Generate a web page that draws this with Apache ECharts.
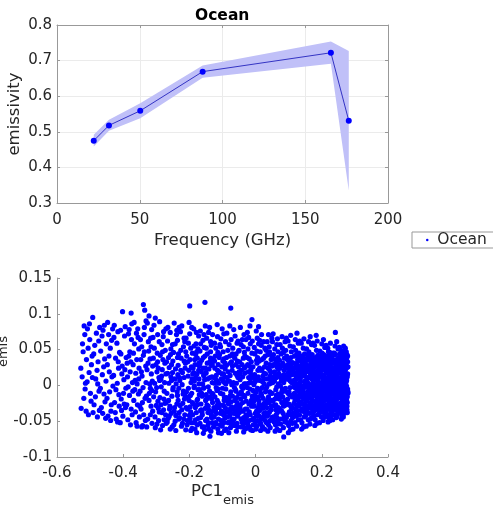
<!DOCTYPE html>
<html><head><meta charset="utf-8">
<script src="https://cdn.jsdelivr.net/npm/echarts@6/dist/echarts.min.js"></script>
<style>html,body{margin:0;padding:0;background:#fff}#c{width:493px;height:507px}</style>
</head><body><div id="c"></div>
<script>
// Top panel: ocean emissivity spectrum
const freqGHz   = [22.2, 31.4, 50.3, 88, 165.5, 176.3];
const emisMean  = [0.475, 0.518, 0.559, 0.669, 0.722, 0.531];
const emisUpper = [0.492, 0.534, 0.580, 0.686, 0.754, 0.727];
const emisLower = [0.459, 0.503, 0.538, 0.652, 0.691, 0.335];
const freqTicks = [0, 50, 100, 150, 200];
const emisTicks = [0.3, 0.4, 0.5, 0.6, 0.7, 0.8];
// Bottom panel: PC1 vs PC2 of emissivity
const pcTicksX = [-0.6, -0.4, -0.2, 0, 0.2, 0.4];
const pcTicksY = [-0.1, -0.05, 0, 0.05, 0.1, 0.15];
const pcPoints = [
[-.527,-.032],[-.524,.012],[-.521,.047],[-.519,-.018],[-.516,.071],[-.514,.003],[-.528,.024],[-.512,-.036],[-.518,.083],[-.523,.058],[-.515,-.005],[-.511,.036],
[-.508,.079],[-.505,-.041],[-.503,.018],[-.501,.064],[-.497,-.022],[-.494,.041],[-.492,.095],[-.509,.005],[-.499,-.011],[-.496,.029],[-.491,-.038],[-.506,.052],[-.502,.086],[-.493,.011],
[-.488,-.027],[-.486,.056],[-.483,.009],[-.481,.073],[-.478,-.044],[-.476,.033],[-.473,-.008],[-.471,.081],[-.489,.044],[-.484,-.016],[-.479,.021],[-.474,.062],[-.472,-.035],[-.477,.002],
[-.468,.048],[-.466,-.031],[-.463,.015],[-.461,.077],[-.458,-.012],[-.456,.037],[-.453,-.046],[-.451,.058],[-.469,-.004],[-.464,.069],[-.459,.026],[-.455,-.023],[-.452,.006],[-.457,.084],[-.462,-.039],
[-.448,.029],[-.446,-.043],[-.444,.071],[-.441,-.009],[-.439,.052],[-.436,-.027],[-.434,.012],[-.432,.079],[-.449,-.018],[-.443,.041],[-.438,-.049],[-.435,.063],[-.431,-.001],[-.447,.088],[-.442,.019],[-.437,-.036],
[-.428,.067],[-.426,-.024],[-.423,.038],[-.421,-.047],[-.418,.003],[-.416,.075],[-.413,-.013],[-.411,.046],[-.429,.014],[-.424,-.038],[-.419,.059],[-.414,.024],[-.412,-.029],[-.427,.084],[-.422,-.006],[-.417,-.051],[-.415,.033],
[-.408,.077],[-.406,-.019],[-.403,.027],[-.401,-.043],[-.398,.008],[-.396,.069],[-.393,-.031],[-.391,.039],[-.409,-.052],[-.404,.016],[-.399,-.011],[-.394,.082],[-.392,-.004],[-.407,.044],[-.402,.103],[-.397,-.026],[-.395,.022],[-.405,-.035],
[-.388,.031],[-.386,-.048],[-.384,.072],[-.381,-.014],[-.379,.019],[-.376,-.033],[-.374,.086],[-.372,.004],[-.389,-.027],[-.383,.041],[-.378,-.055],[-.375,.064],[-.371,-.008],[-.387,.012],[-.382,.078],[-.377,.033],[-.373,-.041],[-.385,-.002],[-.38,.047],[-.376,.101],
[-.368,-.021],[-.366,.058],[-.364,.007],[-.361,-.052],[-.359,.036],[-.356,.079],[-.354,-.012],[-.352,.024],[-.369,.045],[-.363,-.037],[-.358,.002],[-.355,.067],[-.351,-.044],[-.367,.088],[-.362,.017],[-.357,-.027],[-.353,.051],[-.365,-.006],[-.36,.073],[-.358,-.057],[-.353,.009],[-.37,.029],
[-.348,.064],[-.346,-.033],[-.343,.013],[-.341,-.056],[-.339,.042],[-.336,.081],[-.334,-.018],[-.332,.027],[-.349,-.008],[-.344,.054],[-.338,-.041],[-.335,.105],[-.331,.004],[-.347,.036],[-.342,-.024],[-.337,.071],[-.333,-.049],[-.345,.019],[-.34,-.003],[-.336,.047],[-.331,.09],[-.35,-.029],[-.339,.113],[-.344,-.058],
[-.328,.022],[-.326,-.047],[-.324,.061],[-.321,-.011],[-.319,.037],[-.316,-.029],[-.314,.078],[-.312,.006],[-.329,-.058],[-.323,.048],[-.318,-.004],[-.315,.016],[-.311,-.036],[-.327,.087],[-.322,-.021],[-.317,.066],[-.313,-.053],[-.325,.031],[-.32,.002],[-.316,.054],[-.311,.027],[-.33,-.015],[-.322,.097],[-.318,-.041],[-.314,-.007],
[-.308,-.016],[-.306,.052],[-.304,-.044],[-.301,.029],[-.299,-.003],[-.296,.071],[-.294,-.032],[-.292,.011],[-.309,.038],[-.303,-.059],[-.298,.019],[-.295,-.022],[-.291,.061],[-.307,.084],[-.302,-.009],[-.297,.045],[-.293,-.049],[-.305,.003],[-.3,-.028],[-.296,.033],[-.291,-.037],[-.31,.067],[-.303,.094],[-.298,-.054],[-.294,.024],[-.29,.007],
[-.288,.042],[-.286,-.027],[-.284,.013],[-.281,-.056],[-.279,.068],[-.276,-.008],[-.274,.031],[-.272,-.041],[-.289,-.017],[-.283,.057],[-.278,-.034],[-.275,.004],[-.271,.079],[-.287,-.062],[-.282,.022],[-.277,-.019],[-.273,.049],[-.285,-.002],[-.28,.036],[-.276,-.048],[-.271,.016],[-.29,.089],[-.283,-.038],[-.278,.075],[-.274,-.025],[-.27,-.053],[-.286,.009],[-.281,.047],
[-.268,-.011],[-.266,.062],[-.264,-.046],[-.261,.025],[-.259,-.029],[-.256,.051],[-.254,.007],[-.252,-.058],[-.269,.033],[-.263,-.021],[-.258,.074],[-.255,-.039],[-.251,.018],[-.267,-.051],[-.262,.003],[-.257,.043],[-.253,-.015],[-.265,.081],[-.26,-.033],[-.256,.012],[-.251,.057],[-.27,-.024],[-.263,.039],[-.258,-.061],[-.254,.029],[-.25,-.006],[-.266,.017],[-.261,-.043],
[-.248,.046],[-.246,-.036],[-.244,.009],[-.241,-.063],[-.239,.071],[-.236,-.014],[-.234,.028],[-.232,-.047],[-.249,-.003],[-.243,.058],[-.238,-.026],[-.235,.015],[-.231,.081],[-.247,-.055],[-.242,.023],[-.237,-.009],[-.233,.044],[-.245,-.031],[-.24,.002],[-.236,.063],[-.231,-.038],[-.25,.034],[-.243,-.05],[-.238,.077],[-.234,-.021],[-.23,.011],[-.246,.087],[-.241,-.042],[-.236,.039],[-.232,-.004],
[-.228,-.028],[-.226,.049],[-.224,-.057],[-.221,.018],[-.219,-.012],[-.216,.066],[-.214,-.041],[-.212,.031],[-.229,.007],[-.223,-.034],[-.218,.054],[-.215,-.019],[-.211,-.062],[-.227,.075],[-.222,.001],[-.217,-.047],[-.213,.024],[-.225,.038],[-.22,-.025],[-.216,.011],[-.211,.047],[-.23,-.045],[-.223,.083],[-.218,-.008],[-.214,.061],[-.21,-.031],[-.226,.021],[-.221,-.053],[-.216,.034],[-.212,-.015],
[-.208,.041],[-.206,-.049],[-.204,.013],[-.201,-.021],[-.199,.072],[-.196,-.037],[-.194,.026],[-.192,-.06],[-.209,-.009],[-.203,.059],[-.198,-.03],[-.195,.004],[-.191,.045],[-.207,-.055],[-.202,.021],[-.197,-.014],[-.193,.081],[-.205,.033],[-.2,-.042],[-.196,.052],[-.191,-.024],[-.21,.066],[-.203,-.004],[-.198,.036],[-.194,-.052],[-.19,.016],[-.206,-.033],[-.201,.088],[-.196,-.063],[-.192,.009],[-.199,.111],[-.204,-.017],
[-.188,-.026],[-.186,.055],[-.184,-.052],[-.181,.011],[-.179,-.038],[-.176,.038],[-.174,-.006],[-.172,.069],[-.189,.024],[-.183,-.061],[-.178,.047],[-.175,-.019],[-.171,.002],[-.187,.079],[-.182,-.031],[-.177,.016],[-.173,-.046],[-.185,.006],[-.18,.058],[-.176,-.027],[-.171,.031],[-.19,-.041],[-.183,.029],[-.178,-.066],[-.174,.051],[-.17,-.013],[-.186,-.003],[-.181,.043],[-.176,-.055],[-.172,.021],[-.179,.074],[-.184,.036],
[-.168,.048],[-.166,-.045],[-.164,.019],[-.161,-.015],[-.159,.063],[-.156,-.058],[-.154,.008],[-.152,-.032],[-.169,-.006],[-.163,.035],[-.158,-.067],[-.155,.053],[-.151,-.021],[-.167,.076],[-.162,-.037],[-.157,.014],[-.153,.041],[-.165,-.026],[-.16,.002],[-.156,.071],[-.151,-.049],[-.17,.027],[-.163,-.011],[-.158,.039],[-.154,-.062],[-.15,.018],[-.166,.058],[-.161,-.041],[-.156,-.003],[-.152,.083],[-.153,.116],[-.168,-.053],[-.159,.024],[-.164,-.034],
[-.148,-.019],[-.146,.044],[-.144,-.056],[-.141,.023],[-.139,-.008],[-.136,.061],[-.134,-.041],[-.132,.012],[-.149,.052],[-.143,-.029],[-.138,.033],[-.135,-.064],[-.131,.004],[-.147,-.047],[-.142,.074],[-.137,-.016],[-.133,.028],[-.145,.009],[-.14,-.035],[-.136,.047],[-.131,-.052],[-.15,.017],[-.143,-.002],[-.138,-.071],[-.134,.056],[-.13,-.024],[-.146,.031],[-.141,-.061],[-.136,.038],[-.132,-.011],[-.139,.081],[-.144,-.038],[-.133,-.045],[-.148,.066],
[-.128,.037],[-.126,-.031],[-.124,.059],[-.121,-.052],[-.119,.014],[-.116,-.021],[-.114,.046],[-.112,-.066],[-.129,-.012],[-.123,.024],[-.118,-.039],[-.115,.068],[-.111,.003],[-.127,-.058],[-.122,.041],[-.117,-.007],[-.113,.029],[-.125,-.044],[-.12,.052],[-.116,-.028],[-.111,.018],[-.13,.071],[-.123,-.016],[-.118,.007],[-.114,-.061],[-.11,.039],[-.126,.011],[-.121,-.034],[-.116,.085],[-.112,-.047],[-.119,-.003],[-.124,.034],[-.113,-.024],[-.128,-.036],
[-.108,-.027],[-.106,.054],[-.104,-.049],[-.101,.016],[-.099,-.012],[-.096,.072],[-.094,-.063],[-.092,.031],[-.109,.043],[-.103,-.036],[-.098,.006],[-.095,-.021],[-.091,.061],[-.107,-.055],[-.102,.026],[-.097,-.041],[-.093,.012],[-.105,.065],[-.1,-.004],[-.096,.037],[-.091,-.032],[-.11,.019],[-.103,-.067],[-.098,.047],[-.094,-.017],[-.09,.002],[-.106,-.039],[-.101,.079],[-.096,-.052],[-.092,.023],[-.099,.034],[-.104,.009],[-.093,-.046],[-.108,.057],[-.097,-.028],
[-.088,.028],[-.086,-.044],[-.084,.049],[-.081,-.018],[-.079,.006],[-.076,-.059],[-.074,.064],[-.072,-.03],[-.089,-.061],[-.083,.019],[-.078,.041],[-.075,-.009],[-.071,-.047],[-.087,.073],[-.082,-.026],[-.077,.014],[-.073,.033],[-.085,-.037],[-.08,.057],[-.076,-.014],[-.071,.021],[-.09,-.005],[-.083,-.052],[-.078,.083],[-.074,-.039],[-.07,.044],[-.086,.011],[-.081,-.066],[-.076,.031],[-.072,.001],[-.075,.108],[-.084,-.023],[-.079,-.043],[-.088,.039],[-.073,-.056],
[-.068,-.033],[-.066,.041],[-.064,-.056],[-.061,.017],[-.059,-.008],[-.056,.059],[-.054,-.043],[-.052,.026],[-.069,.052],[-.063,-.021],[-.058,-.064],[-.055,.034],[-.051,-.012],[-.067,.004],[-.062,.069],[-.057,-.035],[-.053,.011],[-.065,-.047],[-.06,.029],[-.056,-.024],[-.051,.048],[-.07,-.015],[-.063,.038],[-.058,.003],[-.054,-.058],[-.05,.019],[-.066,.078],[-.061,-.039],[-.056,.014],[-.052,-.029],[-.059,.044],[-.064,-.003],[-.053,.062],[-.068,-.052],[-.057,-.017],
[-.048,.033],[-.046,-.027],[-.044,.057],[-.041,-.051],[-.039,.012],[-.036,-.014],[-.034,.046],[-.032,-.061],[-.049,-.038],[-.043,.021],[-.038,-.004],[-.035,.071],[-.031,-.033],[-.047,.008],[-.042,-.058],[-.037,.038],[-.033,.017],[-.045,-.019],[-.04,.064],[-.036,-.045],[-.031,.026],[-.05,.049],[-.043,-.009],[-.038,-.036],[-.034,.002],[-.03,-.052],[-.046,.081],[-.041,.029],[-.036,-.065],[-.032,.041],[-.039,-.024],[-.044,-.047],[-.033,-.016],[-.048,.016],[-.037,.054],[-.042,-.002],
[-.028,-.022],[-.026,.039],[-.024,-.054],[-.021,.011],[-.019,-.037],[-.016,.058],[-.014,.004],[-.012,-.029],[-.029,.064],[-.023,-.011],[-.018,.027],[-.015,-.062],[-.011,.045],[-.027,-.043],[-.022,.019],[-.017,-.005],[-.013,.033],[-.025,.074],[-.02,-.026],[-.016,.009],[-.011,-.048],[-.03,.002],[-.023,.051],[-.018,-.058],[-.014,.022],[-.01,-.015],[-.026,-.033],[-.021,.067],[-.016,-.041],[-.012,.014],[-.019,.037],[-.024,.029],[-.013,-.021],[-.028,-.06],[-.017,.083],[-.011,.092],
[-.008,.026],[-.006,-.046],[-.004,.053],[-.001,-.019],[.001,.007],[.004,-.057],[.006,.039],[.008,-.031],[-.009,-.063],[-.003,.015],[.002,-.009],[.005,.066],[.009,-.042],[-.007,-.024],[-.002,.044],[.003,-.036],[.007,.021],[-.005,.001],[0,-.051],[.004,.031],[.009,.058],[-.01,.062],[-.003,-.014],[.002,.076],[.006,-.004],[.01,-.026],[-.006,.011],[-.001,-.039],[.004,.048],[.008,.012],[.001,-.061],[-.004,-.029],[.007,-.049],[-.008,-.007],[.003,.035],[.009,.082],
[.012,-.035],[.014,.047],[.016,-.011],[.019,.022],[.021,-.058],[.024,.061],[.026,.002],[.028,-.024],[.011,.034],[.017,-.047],[.022,.013],[.025,-.039],[.029,.041],[.013,.007],[.018,.071],[.023,-.018],[.027,.026],[.015,-.063],[.02,-.003],[.024,.038],[.029,-.049],[.01,-.021],[.017,.056],[.022,-.032],[.026,.017],[.03,-.009],[.014,-.052],[.019,.036],[.024,-.026],[.028,.052],[.021,.005],[.016,.021],[.027,-.061],[.012,.063],[.023,-.044],[.018,-.014],
[.032,.031],[.034,-.043],[.036,.009],[.039,-.016],[.041,.054],[.044,-.059],[.046,.018],[.048,-.029],[.031,-.005],[.037,.043],[.042,-.037],[.045,.003],[.049,.066],[.033,-.052],[.038,.024],[.043,-.009],[.047,.036],[.035,.061],[.04,-.024],[.044,.013],[.049,-.045],[.03,.016],[.037,-.064],[.042,.047],[.046,-.011],[.05,.027],[.034,-.031],[.039,.071],[.044,-.049],[.048,.006],[.041,.002],[.036,-.021],[.047,-.034],[.032,.049],[.043,.029],[.038,-.041],[.049,.041],
[.052,-.022],[.054,.043],[.056,-.051],[.059,.014],[.061,-.006],[.064,.057],[.066,-.038],[.068,.023],[.051,.061],[.057,-.028],[.062,.033],[.065,-.061],[.069,.002],[.053,-.044],[.058,.051],[.063,-.014],[.067,.039],[.055,.008],[.06,-.055],[.064,.026],[.069,-.031],[.05,-.011],[.057,.019],[.062,-.041],[.066,.065],[.07,-.018],[.054,.029],[.059,-.064],[.064,-.002],[.068,.047],[.061,-.034],[.056,.037],[.067,-.049],[.052,.004],[.063,.011],[.058,-.019],[.069,.029],[.053,.072],
[.072,.035],[.074,-.047],[.076,.011],[.079,-.024],[.081,.052],[.084,-.059],[.086,.021],[.088,-.008],[.071,-.033],[.077,.044],[.082,-.016],[.085,.004],[.089,.061],[.073,-.063],[.078,.027],[.083,-.039],[.087,.038],[.075,-.001],[.08,.068],[.084,-.029],[.089,-.051],[.07,.017],[.077,-.014],[.082,.031],[.086,-.044],[.09,.009],[.074,.057],[.079,-.036],[.084,.046],[.088,-.021],[.081,-.005],[.076,-.054],[.087,.015],[.072,-.019],[.083,.014],[.078,.006],[.085,-.072],[.073,.024],
[.092,-.027],[.094,.041],[.096,-.052],[.099,.018],[.101,-.009],[.104,.055],[.106,-.041],[.108,.026],[.091,.049],[.097,-.019],[.102,.034],[.105,-.062],[.109,.004],[.093,-.045],[.098,.062],[.103,-.013],[.107,.039],[.095,.009],[.1,-.056],[.104,.021],[.109,-.033],[.09,-.004],[.097,.029],[.102,-.037],[.106,.07],[.11,-.016],[.094,.024],[.099,-.066],[.104,-.003],[.108,.047],[.101,-.026],[.096,.036],[.107,-.049],[.092,.012],[.103,.014],[.098,-.011],[.109,.031],[.093,.066],
[.112,.032],[.114,-.039],[.116,.007],[.119,-.021],[.121,.049],[.124,-.057],[.126,.019],[.128,-.006],[.111,-.031],[.117,.041],[.122,-.014],[.125,.002],[.129,.059],[.113,-.061],[.118,.025],[.123,-.043],[.127,.036],[.115,-.002],[.12,.064],[.124,-.028],[.129,-.048],[.11,.015],[.117,-.011],[.122,.029],[.126,-.036],[.13,.011],[.114,.054],[.119,-.052],[.124,.043],[.128,-.018],[.121,-.004],[.116,-.025],[.127,.017],[.112,-.045],[.123,.012],[.118,.004],[.125,.073],[.113,.021],
[.132,-.024],[.134,.038],[.136,-.048],[.139,.014],[.141,-.004],[.144,.052],[.146,-.036],[.148,.024],[.131,.045],[.137,-.016],[.142,.031],[.145,-.058],[.149,.006],[.133,-.041],[.138,.059],[.143,-.012],[.147,.037],[.135,.009],[.14,-.052],[.144,.021],[.149,-.029],[.13,-.003],[.137,.027],[.142,-.033],[.146,.065],[.15,-.014],[.134,.022],[.139,-.061],[.144,-.001],[.148,.044],[.141,-.026],[.136,.034],[.147,-.044],[.132,.011],[.143,.016],[.138,-.008],[.149,.029],[.133,.062],[.145,-.019],[.14,.041],
[.152,.029],[.154,-.035],[.156,.005],[.159,-.018],[.161,.047],[.164,-.054],[.166,.016],[.168,-.004],[.151,-.028],[.157,.039],[.162,-.011],[.165,.001],[.169,.057],[.153,-.057],[.158,.023],[.163,-.039],[.167,.034],[.155,-.001],[.16,.061],[.164,-.025],[.169,-.045],[.15,.013],[.157,-.009],[.162,.027],[.166,-.032],[.17,.009],[.154,.051],[.159,-.048],[.164,.041],[.168,-.016],[.161,-.002],[.156,-.022],[.167,.015],[.152,-.042],[.163,.011],[.158,.003],[.165,.068],[.153,.019],[.16,-.031],[.155,.035],[.166,-.047],[.169,.024],
[.172,-.021],[.174,.036],[.176,-.043],[.179,.012],[.181,-.002],[.184,.049],[.186,-.033],[.188,.021],[.171,.043],[.177,-.014],[.182,.029],[.185,-.053],[.189,.004],[.173,-.038],[.178,.056],[.183,-.011],[.187,.034],[.175,.007],[.18,-.048],[.184,.019],[.189,-.027],[.17,-.001],[.177,.025],[.182,-.031],[.186,.062],[.19,-.013],[.174,.02],[.179,-.056],[.184,.001],[.188,.042],[.181,-.024],[.176,.031],[.187,-.041],[.172,.009],[.183,.014],[.178,-.006],[.189,.027],[.173,.059],[.185,-.017],[.18,.039],[.175,-.029],[.186,.008],[.171,-.009],[.183,.07],
[.192,.026],[.194,-.032],[.196,.003],[.199,-.017],[.201,.045],[.204,-.049],[.206,.014],[.208,-.006],[.191,-.026],[.197,.037],[.202,-.009],[.205,.001],[.209,.053],[.193,-.052],[.198,.021],[.203,-.037],[.207,.031],[.195,-.003],[.2,.058],[.204,-.023],[.209,-.041],[.19,.011],[.197,-.008],[.202,.025],[.206,-.029],[.21,.007],[.194,.048],[.199,-.044],[.204,.038],[.208,-.015],[.201,-.001],[.196,-.021],[.207,.013],[.192,-.039],[.203,.009],[.198,.002],[.205,.064],[.193,.017],[.2,-.028],[.195,.033],[.206,-.045],[.209,.022],[.191,.041],[.203,-.014],[.197,-.035],[.208,.035],
[.212,-.019],[.214,.034],[.216,-.041],[.219,.011],[.221,-.002],[.224,.046],[.226,-.031],[.228,.019],[.211,.041],[.217,-.012],[.222,.027],[.225,-.049],[.229,.003],[.213,-.036],[.218,.052],[.223,-.009],[.227,.032],[.215,.006],[.22,-.045],[.224,.017],[.229,-.025],[.21,-.002],[.217,.023],[.222,-.029],[.226,.059],[.23,-.011],[.214,.018],[.219,-.051],[.224,.001],[.228,.039],[.221,-.022],[.216,.029],[.227,-.038],[.212,.008],[.223,.013],[.218,-.005],[.229,.025],[.213,.056],[.225,-.016],[.22,.037],[.215,-.027],[.226,.007],[.211,-.008],[.223,.045],[.217,-.033],[.228,-.043],
[.232,.024],[.234,-.029],[.236,.002],[.239,-.015],[.241,.043],[.244,-.045],[.246,.013],[.248,-.005],[.231,-.023],[.237,.035],[.242,-.008],[.245,.001],[.249,.051],[.233,-.048],[.238,.019],[.243,-.034],[.247,.029],[.235,-.002],[.24,.055],[.244,-.021],[.249,-.038],[.23,.01],[.237,-.007],[.242,.023],[.246,-.027],[.25,.006],[.234,.045],[.239,-.041],[.244,.036],[.248,-.014],[.241,-.001],[.236,-.019],[.247,.012],[.232,-.036],[.243,.008],[.238,.001],[.245,.061],[.233,.016],[.24,-.026],[.235,.031],[.246,-.043],[.249,.021],[.231,.039],[.243,-.013],[.237,-.032],[.241,.074],
[.252,-.017],[.254,.032],[.256,-.037],[.259,.01],[.261,-.001],[.264,.044],[.266,-.028],[.268,.018],[.251,.039],[.257,-.011],[.262,.026],[.265,-.044],[.269,.003],[.253,-.033],[.258,.049],[.263,-.008],[.267,.031],[.255,.005],[.26,-.041],[.264,.016],[.269,-.023],[.25,-.003],[.257,.022],[.262,-.027],[.266,.055],[.27,-.01],[.254,.017],[.259,-.047],[.264,.001],[.268,.037],[.261,-.02],[.256,.028],[.267,-.035],[.252,.007],[.263,.012],[.258,-.004],[.269,.024],[.253,.053],[.265,-.015],[.26,.035],[.255,-.025],[.266,.006],[.251,-.007],[.263,.042],[.257,-.031],[.268,-.039],
[.271,.021],[.272,-.026],[.273,.004],[.274,-.013],[.275,.038],[.276,-.034],[.277,.012],[.278,-.005],[.271,-.018],[.272,.03],[.273,-.008],[.274,.047],[.275,-.021],[.276,.025],[.277,-.038],[.278,.016],[.271,.052],[.272,.009],[.273,-.029],[.274,.028],[.275,-.001],[.276,.043],[.277,-.016],[.278,.033],[.279,-.011],
[.121,.008],[.123,-.019],[.125,.031],[.127,-.007],[.129,.022],[.131,-.029],[.133,.003],[.135,.017],[.137,-.023],[.139,.036],[.122,-.033],[.124,.012],[.126,-.015],[.128,.041],[.13,-.001],[.132,.026],[.134,-.011],[.136,.005],[.138,-.035],[.14,.019],
[.141,.013],[.143,-.026],[.145,.034],[.147,-.003],[.149,.018],[.151,-.021],[.153,.007],[.155,.028],[.157,-.031],[.159,-.012],[.142,.039],[.144,-.009],[.146,.024],[.148,-.037],[.15,.002],[.152,.035],[.154,-.016],[.156,.011],[.158,.042],[.16,-.004],
[.161,.021],[.163,-.029],[.165,-.006],[.167,.031],[.169,-.018],[.171,.014],[.173,-.033],[.175,.026],[.177,.001],[.179,-.013],[.162,.044],[.164,-.002],[.166,.037],[.168,-.024],[.17,.028],[.172,-.011],[.174,.006],[.176,-.036],[.178,.019],[.18,.033],
[.181,.011],[.183,-.022],[.185,.036],[.187,-.008],[.189,.016],[.191,-.031],[.193,.004],[.195,.024],[.197,-.017],[.199,.041],[.182,-.034],[.184,.027],[.186,-.003],[.188,.009],[.19,-.025],[.192,.033],[.194,-.012],[.196,.015],[.198,-.028],[.2,.003],
[.201,.029],[.203,-.018],[.205,.008],[.207,-.034],[.209,.039],[.211,-.004],[.213,.021],[.215,-.013],[.217,.034],[.219,-.027],[.202,.015],[.204,-.007],[.206,.043],[.208,-.021],[.21,.026],[.212,-.031],[.214,.002],[.216,.017],[.218,-.009],[.22,.047],
[.221,-.016],[.223,.028],[.225,-.003],[.227,.012],[.229,-.029],[.231,.035],[.233,-.011],[.235,.019],[.237,.004],[.239,-.022],[.222,.041],[.224,-.033],[.226,.023],[.228,-.007],[.23,.009],[.232,-.019],[.234,.031],[.236,-.026],[.238,.045],[.24,.014],
[.241,-.009],[.243,.026],[.245,-.031],[.247,.007],[.249,.036],[.251,-.014],[.253,.019],[.255,-.004],[.257,.041],[.259,-.024],[.242,.016],[.244,-.019],[.246,.032],[.248,-.036],[.25,.023],[.252,-.001],[.254,.044],[.256,-.027],[.258,.011],[.26,.029],
[.261,.019],[.263,-.021],[.265,.033],[.267,-.006],[.269,.012],[.271,-.032],[.273,.038],[.275,.007],[.277,-.024],[.279,.026],[.262,-.012],[.264,.004],[.266,-.036],[.268,.046],[.27,-.017],[.272,.015],[.274,-.003],[.276,-.029],[.278,.041],[.279,-.009],
[-.198,-.046],[-.193,-.011],[-.187,.018],[-.182,-.048],[-.177,-.021],[-.171,.009],[-.166,-.035],[-.161,-.058],[-.157,-.004],[-.152,.024],[-.147,-.027],[-.143,-.052],[-.138,.011],[-.133,-.019],[-.129,-.044],[-.124,.003],[-.119,-.054],[-.115,.021],[-.11,-.031],[-.106,-.011],
[-.101,-.057],[-.097,.016],[-.092,-.038],[-.088,-.017],[-.083,.006],[-.079,-.051],[-.074,-.023],[-.07,.027],[-.065,-.039],[-.061,-.006],[-.056,-.053],[-.052,.017],[-.047,-.032],[-.043,-.012],[-.038,-.056],[-.034,.024],[-.029,-.041],[-.025,-.003],[-.02,-.049],[-.016,.018],
[-.011,-.027],[-.007,-.055],[-.002,.005],[.003,-.043],[.007,-.016],[.012,.024],[.016,-.054],[.021,-.029],[.025,.009],[.03,-.038],[.034,-.002],[.039,-.055],[.043,.021],[.048,-.021],[.052,-.046],[.057,.006],[.061,-.027],[.066,-.054],[.07,.015],[.075,-.035],
[.079,-.009],[.084,-.047],[.088,.027],[.093,-.024],[.097,-.041],[.102,.008],[.106,-.029],[.111,-.053],[.115,.017],[.12,-.039],
[-.185,-.001],[-.168,.031],[-.149,-.013],[-.131,.029],[-.113,-.005],[-.094,.004],[-.077,-.033],[-.058,-.029],[-.041,-.001],[-.022,.003],[-.004,-.021],[.014,-.006],[.032,-.025],[.05,.011],[.068,-.012],[.087,-.028],[.105,.006],[.119,-.017],[.064,-.045],[-.031,-.047]
];

const FONT = 'DejaVu Sans';
const TXT = '#262626';
const AX = '#999999';

function axisBase(extra) {
  return Object.assign({
    type: 'value',
    nameMoveOverlap: false,
    axisLine: { show: true, onZero: false, lineStyle: { color: AX, width: 1 } },
    axisTick: { show: true, inside: true, length: 3, lineStyle: { color: AX } },
    axisLabel: { fontFamily: FONT, fontSize: 15, color: TXT },
    splitLine: { show: false },
    nameTextStyle: { fontFamily: FONT, fontSize: 16.5, color: TXT }
  }, extra);
}
const gridLine = { show: true, lineStyle: { color: '#ebebeb', width: 1 } };

const chart = echarts.init(document.getElementById('c'), null, { renderer: 'canvas' });
chart.setOption({
  animation: false,
  backgroundColor: '#ffffff',
  title: {
    text: 'Ocean', left: 195, top: 8, padding: 0,
    textStyle: { fontFamily: FONT, fontSize: 15.5, fontWeight: 'bold', color: '#000' }
  },
  legend: {
    data: ['Ocean'], left: 412, top: 232, orient: 'horizontal',
    padding: [0, 16, 0, 14], itemWidth: 10, itemHeight: 2.5, icon: 'circle',
    borderColor: '#999', borderWidth: 1, backgroundColor: '#fff',
    textStyle: { fontFamily: FONT, fontSize: 15.5, color: TXT, lineHeight: 16 }
  },
  grid: [
    { left: 57, top: 25, width: 331, height: 178, outerBoundsMode: 'none', containLabel: false },
    { left: 57, top: 278, width: 331, height: 179, outerBoundsMode: 'none', containLabel: false }
  ],
  xAxis: [
    axisBase({ gridIndex: 0, position: 'bottom', min: freqTicks[0], max: freqTicks[freqTicks.length - 1], interval: 50,
      splitLine: gridLine, axisLabel: { fontFamily: FONT, fontSize: 15, color: TXT, margin: 10 },
      name: 'Frequency (GHz)', nameLocation: 'middle', nameGap: 29 }),
    axisBase({ gridIndex: 0, position: 'top', min: freqTicks[0], max: freqTicks[freqTicks.length - 1], interval: 50,
      axisLabel: { show: false } }),
    axisBase({ gridIndex: 1, position: 'bottom', min: pcTicksX[0], max: pcTicksX[pcTicksX.length - 1], interval: 0.2,
      axisLabel: { fontFamily: FONT, fontSize: 15, color: TXT, margin: 9 },
      name: '{a|PC1}{b|emis}', nameLocation: 'middle', nameGap: 19,
      nameTextStyle: { rich: {
        a: { fontFamily: FONT, fontSize: 16.5, color: TXT },
        b: { fontFamily: FONT, fontSize: 13, color: TXT, padding: [18, 0, 0, 0] }
      } } })
  ],
  yAxis: [
    axisBase({ gridIndex: 0, position: 'left', min: emisTicks[0], max: emisTicks[emisTicks.length - 1], interval: 0.1,
      splitLine: gridLine, axisLabel: { fontFamily: FONT, fontSize: 15, color: TXT, margin: 5 },
      name: 'emissivity', nameLocation: 'middle', nameRotate: 90, nameGap: 34 }),
    axisBase({ gridIndex: 0, position: 'right', min: emisTicks[0], max: emisTicks[emisTicks.length - 1], interval: 0.1,
      axisLabel: { show: false } }),
    axisBase({ gridIndex: 1, position: 'left', min: pcTicksY[0], max: pcTicksY[pcTicksY.length - 1], interval: 0.05,
      axisLabel: { fontFamily: FONT, fontSize: 15, color: TXT, margin: 5 },
      name: '{a|PC2}{b|emis}', nameLocation: 'middle', nameRotate: 90, nameGap: 47,
      nameTextStyle: { rich: {
        a: { fontFamily: FONT, fontSize: 16.5, color: TXT },
        b: { fontFamily: FONT, fontSize: 13, color: TXT, padding: [18, 0, 0, 0] }
      } } })
  ],
  series: [
    {
      name: 'spread', type: 'custom', xAxisIndex: 0, yAxisIndex: 0, z: 1,
      data: [[freqGHz[0], emisMean[0]]],
      renderItem: function (params, api) {
        const pts = [];
        for (let i = 0; i < freqGHz.length; i++) pts.push(api.coord([freqGHz[i], emisUpper[i]]));
        for (let i = freqGHz.length - 1; i >= 0; i--) pts.push(api.coord([freqGHz[i], emisLower[i]]));
        return { type: 'polygon', shape: { points: pts }, style: { fill: 'rgb(192,192,248)', stroke: null } };
      }
    },
    {
      name: 'mean', type: 'line', xAxisIndex: 0, yAxisIndex: 0, z: 3,
      data: freqGHz.map((f, i) => [f, emisMean[i]]),
      symbol: 'circle', symbolSize: 6, showSymbol: true,
      itemStyle: { color: '#0000ff' },
      lineStyle: { color: '#3434c4', width: 1 }
    },
    {
      name: 'Ocean', type: 'scatter', xAxisIndex: 2, yAxisIndex: 2,
      data: pcPoints, symbol: 'circle', symbolSize: 5.2,
      itemStyle: { color: '#0000ff', opacity: 1 }
    }
  ]
});
</script>
</body></html>
